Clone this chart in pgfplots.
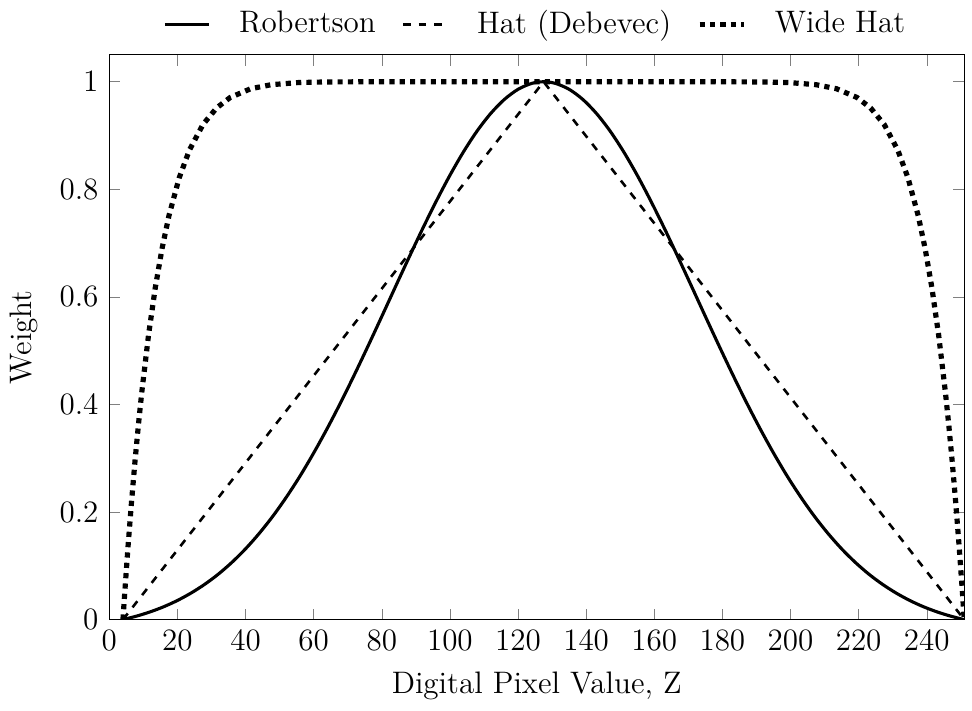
\documentclass[12pt,border=0pt]{standalone}
\usepackage{pgfplots}
\pgfplotsset{compat=1.18}

\begin{document}
\begin{tikzpicture}
\begin{axis}[
  scale only axis,
  width=330pt, height=218pt,
  xmin=0, xmax=251,
  ymin=0, ymax=1.05,
  xtick={0,20,...,240},
  ytick={0,0.2,0.4,0.6,0.8,1},
  xlabel={Digital Pixel Value, Z},
  ylabel={Weight},
  legend columns=-1,
  legend style={at={(0.5,1.01)}, anchor=south, draw=none, fill=none,
    /tikz/every odd column/.append style={column sep=9pt},
    /tikz/every even column/.append style={column sep=8pt}},
]
% Robertson (gaussian-like)
\addplot[very thick, black, smooth] coordinates {
(4,0) (8,0.0065) (12,0.0144) (16,0.0240) (20,0.0356) (24,0.0494) (28,0.0656)
(32,0.0845) (36,0.1065) (40,0.1316) (44,0.1602) (48,0.1922) (52,0.2279)
(56,0.2670) (60,0.3098) (64,0.3557) (68,0.4045) (72,0.4559) (76,0.5092)
(80,0.5637) (84,0.6188) (88,0.6735) (92,0.7270) (96,0.7781) (100,0.8261)
(104,0.8699) (108,0.9086) (112,0.9412) (116,0.9672) (120,0.9859) (124,0.9969)
(127.5,1)
(131,0.9969) (135,0.9859) (139,0.9672) (143,0.9412) (147,0.9086) (151,0.8699)
(155,0.8261) (159,0.7781) (163,0.7270) (167,0.6735) (171,0.6188) (175,0.5637)
(179,0.5092) (183,0.4559) (187,0.4045) (191,0.3557) (195,0.3098) (199,0.2670)
(203,0.2279) (207,0.1922) (211,0.1602) (215,0.1316) (219,0.1065) (223,0.0845)
(227,0.0656) (231,0.0494) (235,0.0356) (239,0.0240) (243,0.0144) (247,0.0065)
(251,0)
};
\addlegendentry{Robertson}
% Hat (Debevec)
\addplot[line width=1pt, black, dashed] coordinates {(4,0) (127.5,1) (251,0)};
\addlegendentry{Hat (Debevec)}
% Wide hat
\addplot[line width=2pt, black, dotted] coordinates {
(4,0) (4.5,0.0475) (5.5,0.1364) (6.5,0.2176) (7.5,0.2918) (8.5,0.3594)
(9.5,0.4211) (11.5,0.5285) (13.5,0.6173) (15.5,0.6905) (17.5,0.7507)
(20.5,0.8211) (23.5,0.8728) (27.5,0.9206) (31.5,0.9513) (35.5,0.9708)
(41.5,0.9870) (47.5,0.9945) (55.5,0.9985) (63.5,0.9996) (77.5,1) (127.5,1)
(177.5,1) (191.5,0.9996) (199.5,0.9985) (207.5,0.9945) (213.5,0.9870)
(219.5,0.9708) (223.5,0.9513) (227.5,0.9206) (231.5,0.8728) (234.5,0.8211)
(237.5,0.7507) (239.5,0.6905) (241.5,0.6173) (243.5,0.5285) (245.5,0.4211)
(246.5,0.3594) (247.5,0.2918) (248.5,0.2176) (249.5,0.1364) (250.5,0.0475)
(251,0)
};
\addlegendentry{Wide Hat}
\end{axis}
\path ([xshift=3pt]current axis.east);
\end{tikzpicture}
\end{document}
